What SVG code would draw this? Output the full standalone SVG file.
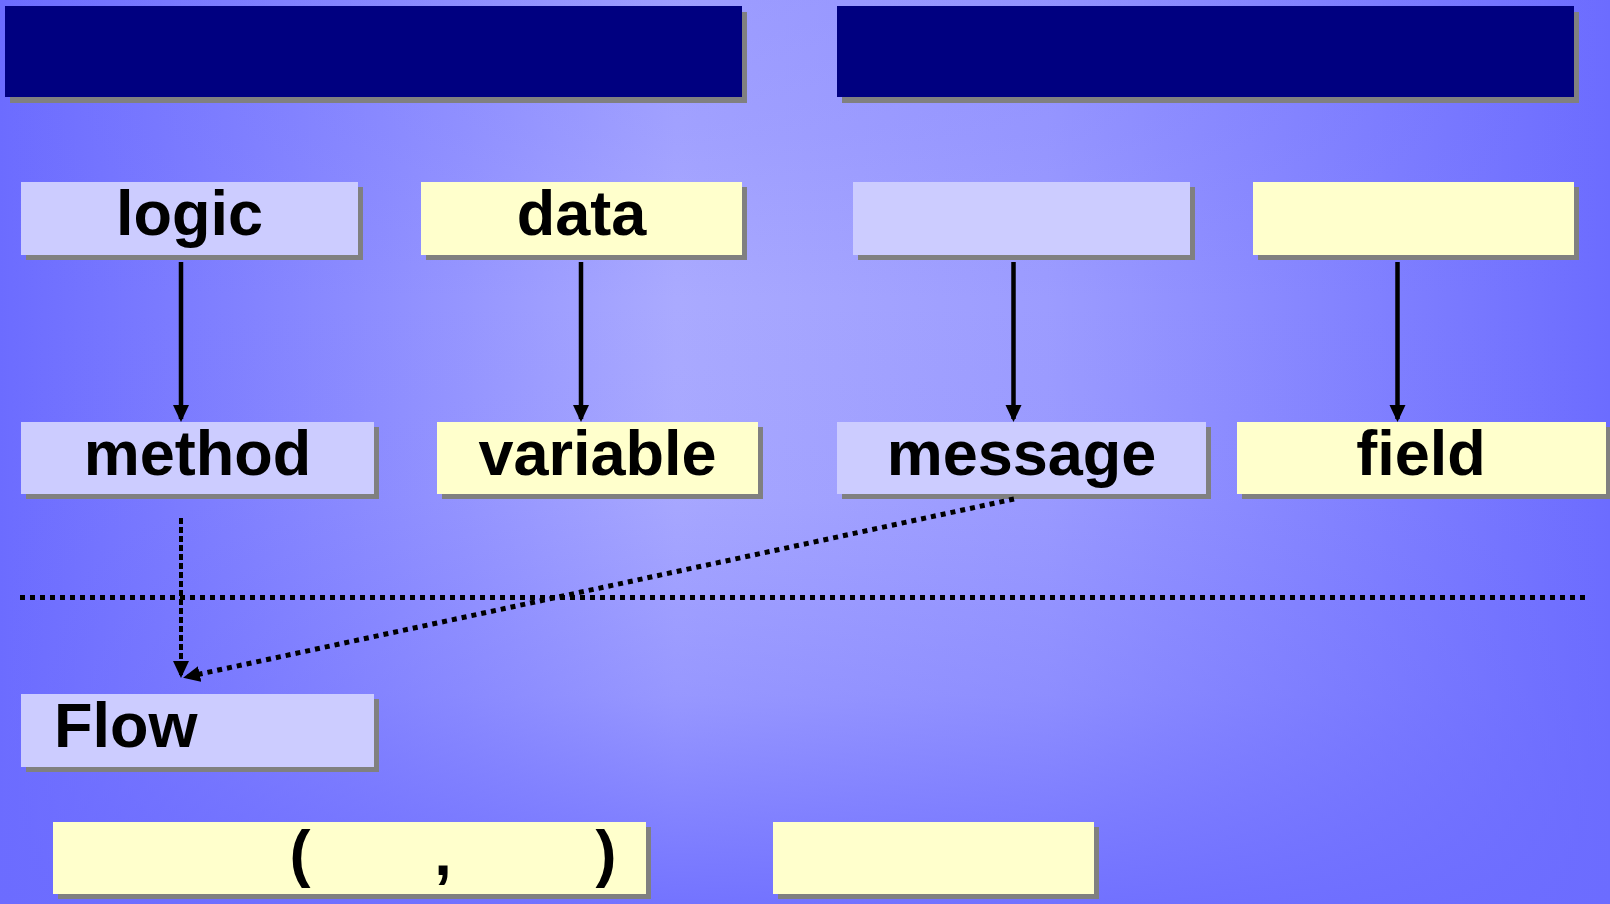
<svg xmlns="http://www.w3.org/2000/svg" width="1610" height="904" viewBox="0 0 1610 904">
  <defs>
    <linearGradient id="bgH" x1="0" y1="0" x2="1610" y2="0" gradientUnits="userSpaceOnUse">
      <stop offset="0" stop-color="#6C6CFF"/>
      <stop offset="0.25" stop-color="#9090FF"/>
      <stop offset="0.42" stop-color="#AAAAFF"/>
      <stop offset="0.65" stop-color="#9C9CFF"/>
      <stop offset="0.82" stop-color="#8585FF"/>
      <stop offset="1" stop-color="#6C6CFF"/>
    </linearGradient>
    <linearGradient id="bgV" x1="0" y1="0" x2="0" y2="904" gradientUnits="userSpaceOnUse">
      <stop offset="0" stop-color="#6C6CFF" stop-opacity="0.2"/>
      <stop offset="0.15" stop-color="#6C6CFF" stop-opacity="0.14"/>
      <stop offset="0.33" stop-color="#6C6CFF" stop-opacity="0"/>
      <stop offset="0.55" stop-color="#6C6CFF" stop-opacity="0.05"/>
      <stop offset="0.77" stop-color="#6C6CFF" stop-opacity="0.3"/>
      <stop offset="1" stop-color="#6C6CFF" stop-opacity="0.88"/>
    </linearGradient>
    <marker id="arrow" markerUnits="userSpaceOnUse" markerWidth="20" markerHeight="18" refX="14" refY="8" orient="auto">
      <path d="M0,0 L17,8 L0,16 z" fill="#000"/>
    </marker>
    <style>
      .shadow { fill: #808080; }
      .navy { fill: #000080; }
      .lav { fill: #CCCCFF; }
      .yel { fill: #FFFFCC; }
      .label { font-family: "Liberation Sans", Arial, sans-serif; font-weight: bold; font-size: 63px; fill: #000; }
      .mid { text-anchor: middle; }
      .solid { stroke: #000; stroke-width: 4.5; fill: none; }
      .dash { stroke: #000; stroke-width: 4; fill: none; stroke-dasharray: 6 3; }
      .dot { stroke: #000; stroke-width: 5; fill: none; stroke-dasharray: 5 5; }
    </style>
  </defs>

  <!-- background -->
  <rect x="0" y="0" width="1610" height="904" fill="url(#bgH)"/>
  <rect x="0" y="0" width="1610" height="904" fill="url(#bgV)"/>

  <!-- title bars -->
  <g id="header-left">
    <rect class="shadow" x="10" y="12" width="737" height="91"/>
    <rect class="navy" x="5" y="6" width="737" height="91"/>
  </g>
  <g id="header-right">
    <rect class="shadow" x="842" y="12" width="737" height="91"/>
    <rect class="navy" x="837" y="6" width="737" height="91"/>
  </g>

  <!-- upper row -->
  <g id="logic">
    <rect class="shadow" x="26" y="187" width="337" height="73"/>
    <rect class="lav" x="21" y="182" width="337" height="73"/>
    <text class="label mid" x="189.5" y="235">logic</text>
  </g>
  <g id="data">
    <rect class="shadow" x="426" y="187" width="321" height="73"/>
    <rect class="yel" x="421" y="182" width="321" height="73"/>
    <text class="label mid" x="581.5" y="235">data</text>
  </g>
  <g id="box-lav-top">
    <rect class="shadow" x="858" y="187" width="337" height="73"/>
    <rect class="lav" x="853" y="182" width="337" height="73"/>
  </g>
  <g id="box-yel-top">
    <rect class="shadow" x="1258" y="187" width="321" height="73"/>
    <rect class="yel" x="1253" y="182" width="321" height="73"/>
  </g>

  <!-- second row -->
  <g id="method">
    <rect class="shadow" x="26" y="427" width="353" height="72"/>
    <rect class="lav" x="21" y="422" width="353" height="72"/>
    <text class="label mid" x="197.5" y="475">method</text>
  </g>
  <g id="variable">
    <rect class="shadow" x="442" y="427" width="321" height="72"/>
    <rect class="yel" x="437" y="422" width="321" height="72"/>
    <text class="label mid" x="597.5" y="475">variable</text>
  </g>
  <g id="message">
    <rect class="shadow" x="842" y="427" width="369" height="72"/>
    <rect class="lav" x="837" y="422" width="369" height="72"/>
    <text class="label mid" x="1021.5" y="475">message</text>
  </g>
  <g id="field">
    <rect class="shadow" x="1242" y="427" width="369" height="72"/>
    <rect class="yel" x="1237" y="422" width="369" height="72"/>
    <text class="label mid" x="1421" y="475">field</text>
  </g>

  <!-- flow -->
  <g id="flow">
    <rect class="shadow" x="26" y="699" width="353" height="73"/>
    <rect class="lav" x="21" y="694" width="353" height="73"/>
    <text class="label" x="54" y="747">Flow</text>
  </g>

  <!-- bottom row -->
  <g id="signature">
    <rect class="shadow" x="58" y="827" width="593" height="72"/>
    <rect class="yel" x="53" y="822" width="593" height="72"/>
    <text class="label mid" x="300" y="875">(</text>
    <text class="label mid" x="443" y="875">,</text>
    <text class="label mid" x="606" y="875">)</text>
  </g>
  <g id="result">
    <rect class="shadow" x="778" y="827" width="321" height="72"/>
    <rect class="yel" x="773" y="822" width="321" height="72"/>
  </g>

  <!-- connectors -->
  <g id="connectors">
    <line class="solid" x1="181" y1="262" x2="181" y2="419" marker-end="url(#arrow)"/>
    <line class="solid" x1="581" y1="262" x2="581" y2="419" marker-end="url(#arrow)"/>
    <line class="solid" x1="1013.5" y1="262" x2="1013.5" y2="419" marker-end="url(#arrow)"/>
    <line class="solid" x1="1397.5" y1="262" x2="1397.5" y2="419" marker-end="url(#arrow)"/>
    <line class="dot" x1="20" y1="597.5" x2="1590" y2="597.5"/>
    <line class="dash" x1="181" y1="518" x2="181" y2="675" marker-end="url(#arrow)"/>
    <line class="dot" x1="1014" y1="499" x2="186" y2="677" marker-end="url(#arrow)"/>
  </g>
</svg>
